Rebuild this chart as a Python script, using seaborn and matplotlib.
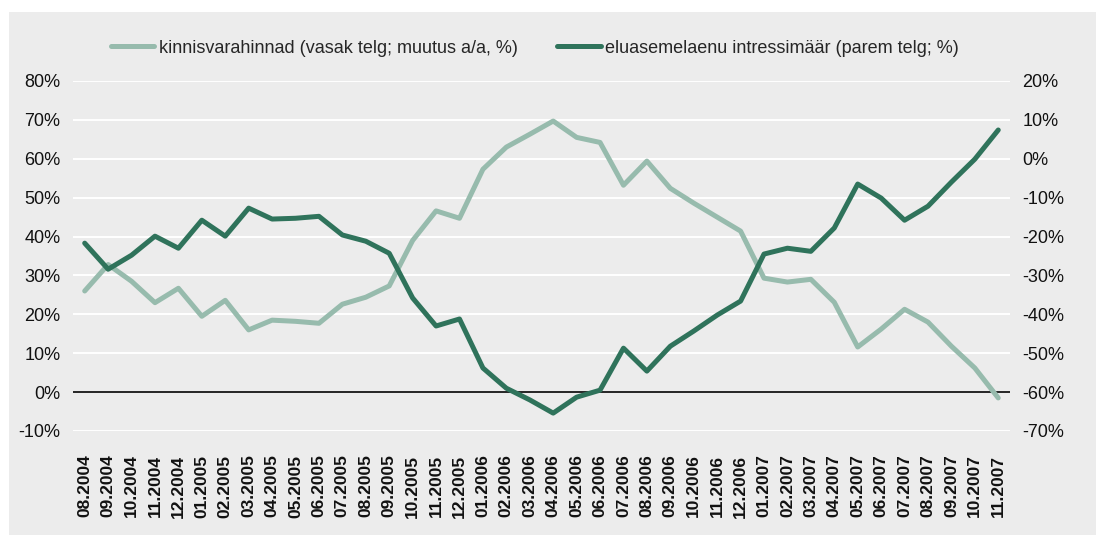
# Kinnisvarahinnad vs eluasemelaenu intressimäär

import numpy as np
import pandas as pd
import matplotlib
matplotlib.use("Agg")
import matplotlib.pyplot as plt
from matplotlib.patches import Rectangle
import seaborn as sns

months = ["08.2004", "09.2004", "10.2004", "11.2004", "12.2004",
          "01.2005", "02.2005", "03.2005", "04.2005", "05.2005", "06.2005",
          "07.2005", "08.2005", "09.2005", "10.2005", "11.2005", "12.2005",
          "01.2006", "02.2006", "03.2006", "04.2006", "05.2006", "06.2006",
          "07.2006", "08.2006", "09.2006", "10.2006", "11.2006", "12.2006",
          "01.2007", "02.2007", "03.2007", "04.2007", "05.2007", "06.2007",
          "07.2007", "08.2007", "09.2007", "10.2007", "11.2007"]

# left axis, change y/y %
prices = [26.0, 32.8, 28.5, 23.0, 26.7, 19.5, 23.6, 16.0, 18.5, 18.2,
          17.7, 22.6, 24.4, 27.3, 39.0, 46.6, 44.7, 57.3, 63.0, 66.3,
          69.7, 65.5, 64.2, 53.2, 59.4, 52.4, 48.6, 45.0, 41.4, 29.3,
          28.3, 29.0, 23.1, 11.6, 16.2, 21.3, 18.0, 11.8, 6.2, -1.5]

# right axis, %
rates = [-21.7, -28.4, -24.8, -19.9, -23.0, -15.8, -19.9, -12.7, -15.5, -15.3,
         -14.8, -19.6, -21.2, -24.3, -35.8, -43.0, -41.2, -53.8, -59.0, -62.0,
         -65.4, -61.3, -59.5, -48.7, -54.6, -48.2, -44.3, -40.2, -36.6, -24.5,
         -23.0, -23.8, -17.8, -6.5, -10.1, -15.8, -12.2, -6.0, -0.1, 7.4]

left_ticks = list(range(-10, 81, 10))
right_ticks = list(range(-70, 21, 10))

label_prices = "kinnisvarahinnad (vasak telg; muutus a/a, %)"
label_rates = "eluasemelaenu intressimäär (parem telg; %)"

LIGHT = "#97bbad"
DARK = "#2f735b"
BG = "#ececec"


def build_frame():
    return pd.DataFrame({"kuu": months, "pos": np.arange(len(months)),
                         "prices": prices, "rates": rates})


def plot(df):
    sns.set_theme(style="white")
    plt.rcParams["font.family"] = ["Liberation Sans", "DejaVu Sans"]

    fig = plt.figure(figsize=(10.96, 5.36), dpi=100)
    fig.patches.append(Rectangle((0.0082, 0.002), 1.0, 0.9757,
                                 transform=fig.transFigure,
                                 facecolor=BG, edgecolor="none", zorder=-10))
    ax = fig.add_axes([0.0666, 0.1959, 0.8549, 0.653])
    ax.set_facecolor(BG)
    ax2 = ax.twinx()

    sns.lineplot(data=df, x="pos", y="prices", ax=ax, color=LIGHT,
                 linewidth=3.6, solid_capstyle="round", label=label_prices,
                 legend=False)
    sns.lineplot(data=df, x="pos", y="rates", ax=ax2, color=DARK,
                 linewidth=3.6, solid_capstyle="round", label=label_rates,
                 legend=False)

    ax.set_xlim(-0.5, len(months) - 0.5)
    ax.set_ylim(-10, 80)
    ax2.set_ylim(-70, 20)
    ax.set_yticks(left_ticks)
    ax.set_yticklabels([f"{t}%" for t in left_ticks])
    ax2.set_yticks(right_ticks)
    ax2.set_yticklabels([f"{t}%" for t in right_ticks])
    ax.set_xticks(df["pos"])
    ax.set_xticklabels(df["kuu"], rotation=90, fontweight="bold",
                       fontsize=12.5)

    ax.grid(axis="y", color="white", linewidth=1.4)
    ax.grid(axis="x", visible=False)
    ax.set_axisbelow(True)
    ax.axhline(0, color="black", linewidth=1.2, zorder=1.5)

    ax.tick_params(axis="y", length=0, pad=9, labelsize=13, colors="#111111")
    ax2.tick_params(axis="y", length=0, pad=9, labelsize=13, colors="#111111")
    ax.tick_params(axis="x", length=0, pad=17, colors="#111111")
    ax.set_xlabel("")
    ax.set_ylabel("")
    ax2.set_ylabel("")
    for a in (ax, ax2):
        for s in a.spines.values():
            s.set_visible(False)

    h1, l1 = ax.get_legend_handles_labels()
    h2, l2 = ax2.get_legend_handles_labels()
    fig.legend(h1 + h2, l1 + l2, loc="center", ncol=2,
               bbox_to_anchor=(0.488, 0.910), frameon=False, fontsize=13,
               handlelength=2.4, handletextpad=0.25, columnspacing=2.2)

    fig.savefig("out.png", dpi=100, facecolor="white")


def main():
    df = build_frame()
    plot(df)


if __name__ == "__main__":
    main()
